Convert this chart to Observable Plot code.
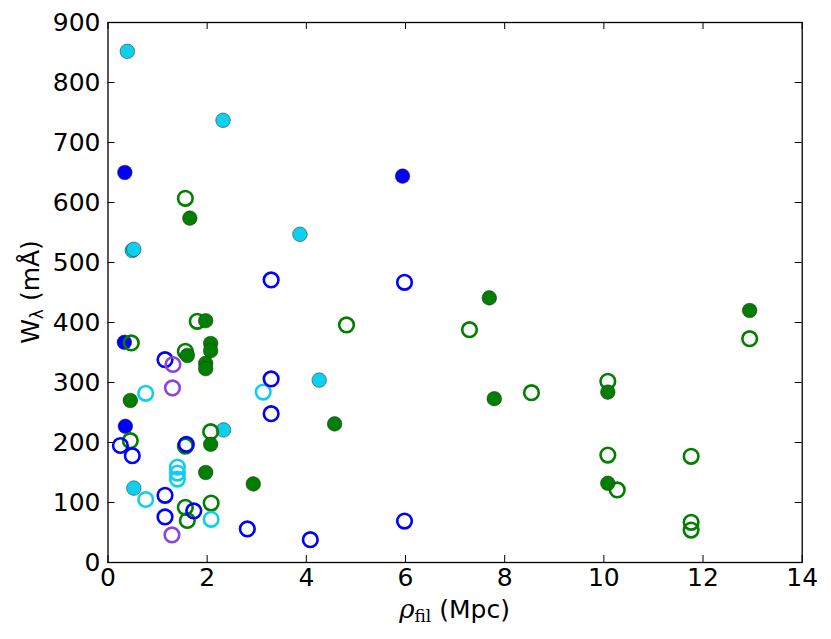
<!DOCTYPE html>
<html><head><meta charset="utf-8">
<script src="https://cdn.jsdelivr.net/npm/d3@7"></script>
<script src="https://cdn.jsdelivr.net/npm/@observablehq/plot@0.6"></script>
<style>body{margin:0;background:#fff} #chart svg{font-family:"DejaVu Sans",sans-serif;background:#fff}</style>
</head><body><div id="chart"></div><script>
// Data (x = rho_fil in Mpc, y = W_lambda in mÅ)
const cyanFilledX = [0.39, 2.32, 0.49, 0.52, 3.87, 4.26, 2.33, 0.52];
const cyanFilledY = [852, 737, 520, 522, 547, 304, 221, 124];
const blueFilledX = [0.33, 0.35, 0.34, 5.94];
const blueFilledY = [367, 227, 650, 644];
const greenOpenX = [1.80, 0.47, 1.56, 0.45, 2.07, 1.56, 1.56, 1.60, 2.08, 1.56, 4.81, 7.29, 8.54, 12.94, 10.08, 10.08, 10.27, 11.76, 11.76, 11.76];
const greenOpenY = [402, 366, 352, 203, 218, 194, 92, 70, 99, 607, 396, 388, 283, 373, 302, 179, 121, 177, 67, 54];
const greenFilledX = [1.97, 2.07, 2.07, 1.60, 1.97, 1.97, 0.45, 2.07, 1.97, 2.93, 1.65, 7.69, 7.79, 4.57, 12.94, 10.08, 10.08];
const greenFilledY = [403, 365, 353, 345, 332, 323, 270, 197, 150, 131, 574, 441, 273, 231, 420, 284, 132];
const cyanOpenX = [0.76, 3.13, 1.40, 1.40, 1.40, 0.76, 2.08];
const cyanOpenY = [282, 284, 159, 149, 139, 105, 72];
const blueOpenX = [1.15, 3.29, 3.29, 0.25, 0.49, 1.58, 1.15, 1.15, 1.73, 2.81, 3.29, 5.98, 5.98, 4.08];
const blueOpenY = [338, 306, 248, 195, 178, 197, 112, 76, 86, 56, 471, 467, 69, 38];
const purpleOpenX = [1.31, 1.30, 1.29];
const purpleOpenY = [330, 291, 46];

const xTicks = [0, 2, 4, 6, 8, 10, 12, 14];
const yTicks = [0, 100, 200, 300, 400, 500, 600, 700, 800, 900];

const CYAN = "#0fcfee", BLUE = "#0000ff", GREEN = "#007f00", PURPLE = "#8a44e0";

const pts = (xs, ys) => xs.map((x, i) => ({x, y: ys[i]}));

const W = 831, H = 639;
const mL = 107.5, mR = 29.3, mT = 22, mB = 77;
const plotH = H - mT - mB, plotW = W - mL - mR;
const TL = 7;

const filled = (data, color) => Plot.dot(data, {x: "x", y: "y", r: 7.3, fill: color, stroke: "#222", strokeWidth: 0.5});
const open = (data, color) => Plot.dot(data, {x: "x", y: "y", r: 7.3, fill: "none", stroke: color, strokeWidth: 2.6});

const chart = Plot.plot({
  width: W, height: H,
  marginLeft: mL, marginRight: mR, marginTop: mT, marginBottom: mB,
  style: {fontSize: "25px", fontFamily: "DejaVu Sans"},
  x: {domain: [0, 14], ticks: xTicks, tickSize: 0, tickPadding: 6, label: null},
  y: {domain: [0, 900], ticks: yTicks, tickSize: 0, tickPadding: 7.5, label: null},
  marks: [
    filled(pts(cyanFilledX, cyanFilledY), CYAN),
    filled(pts(blueFilledX, blueFilledY), BLUE),
    open(pts(greenOpenX, greenOpenY), GREEN),
    filled(pts(greenFilledX, greenFilledY), GREEN),
    open(pts(cyanOpenX, cyanOpenY), CYAN),
    open(pts(blueOpenX, blueOpenY), BLUE),
    open(pts(purpleOpenX, purpleOpenY), PURPLE),
    // inward ticks on all four sides
    Plot.ruleX(xTicks, {x: d => d, insetTop: plotH - TL, stroke: "black", strokeWidth: 1}),
    Plot.ruleX(xTicks, {x: d => d, insetBottom: plotH - TL, stroke: "black", strokeWidth: 1}),
    Plot.ruleY(yTicks, {y: d => d, insetRight: plotW - TL, stroke: "black", strokeWidth: 1}),
    Plot.ruleY(yTicks, {y: d => d, insetLeft: plotW - TL, stroke: "black", strokeWidth: 1}),
    Plot.frame({stroke: "black", strokeWidth: 1.3})
  ]
});

const svg = d3.select(chart);
// x label: rho_fil (Mpc)
const xl = svg.append("text")
  .attr("x", mL + plotW / 2).attr("y", 618)
  .attr("text-anchor", "middle").attr("font-size", 25).attr("fill", "black");
xl.append("tspan").attr("font-family", "DejaVu Serif").attr("font-style", "italic").attr("font-size", 26).text("ρ");
xl.append("tspan").attr("font-family", "DejaVu Serif").attr("font-size", 17).attr("dy", 4).text("fil");
xl.append("tspan").attr("dy", -4).text(" (Mpc)");

// y label: W_lambda (mÅ)
const yl = svg.append("text")
  .attr("transform", `translate(39,${mT + plotH / 2}) rotate(-90)`)
  .attr("text-anchor", "middle").attr("font-size", 25).attr("fill", "black");
yl.append("tspan").text("W");
yl.append("tspan").attr("font-size", 17).attr("dy", 4).text("λ");
yl.append("tspan").attr("dy", -4).text(" (mÅ)");

document.getElementById("chart").append(chart);
</script></body></html>
